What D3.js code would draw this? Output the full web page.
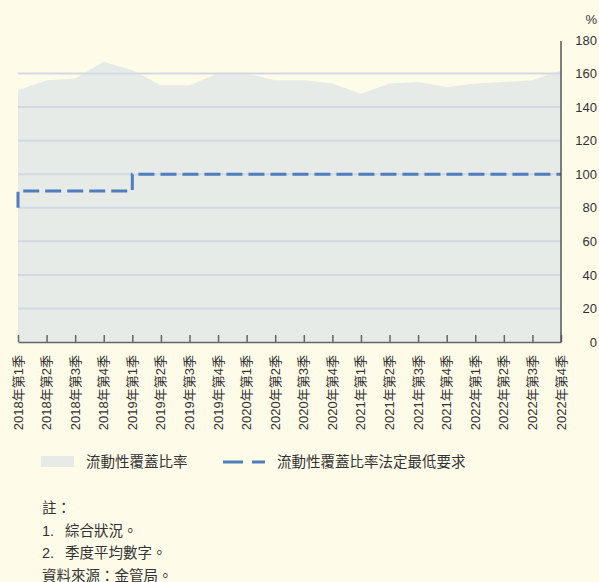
<!DOCTYPE html>
<html>
<head>
<meta charset="utf-8">
<script src="https://cdn.jsdelivr.net/npm/d3@7/dist/d3.min.js"></script>
<style>
  html, body { margin: 0; padding: 0; background: #fefbe9; }
  svg { display: block; }
  text { font-family: "Liberation Sans", "Noto Sans CJK TC", sans-serif; fill: #333; }
</style>
</head>
<body>
<svg id="chart" width="599" height="582"></svg>
<script>
// Quarters shown along the x axis
const quarters = [
  "2018年第1季","2018年第2季","2018年第3季","2018年第4季",
  "2019年第1季","2019年第2季","2019年第3季","2019年第4季",
  "2020年第1季","2020年第2季","2020年第3季","2020年第4季",
  "2021年第1季","2021年第2季","2021年第3季","2021年第4季",
  "2022年第1季","2022年第2季","2022年第3季","2022年第4季"
];
// Liquidity coverage ratio (%), quarterly average
const lcr = [150, 156, 157, 167, 162, 153, 153, 160, 160, 156,
             156, 154, 148, 154, 155, 152, 154, 155, 156, 162];
// Statutory minimum (%), with the level in force before 2018
const minPrior = 80;
const minReq = [90, 90, 90, 90, 100, 100, 100, 100, 100, 100,
                100, 100, 100, 100, 100, 100, 100, 100, 100, 100];
const yTicks = [0, 20, 40, 60, 80, 100, 120, 140, 160, 180];
const legendLabels = ["流動性覆蓋比率", "流動性覆蓋比率法定最低要求"];
const noteHeader = "註：";
const noteItems = [["1.", "綜合狀況。"], ["2.", "季度平均數字。"]];
const sourceLine = "資料來源：金管局。";

const svg = d3.select("#chart");
const plotLeft = 18, plotRight = 561, plotTop = 40, plotBottom = 342;

const x = d3.scalePoint().domain(quarters).range([plotLeft, plotRight]).padding(0);
const y = d3.scaleLinear().domain([0, 180]).range([plotBottom, plotTop]);

// Area series
const area = d3.area()
  .x((d, i) => x(quarters[i]))
  .y0(y(0))
  .y1(d => y(d));
svg.append("path")
  .datum(lcr)
  .attr("d", area)
  .attr("fill", "#e6ebe8");

// Horizontal gridlines
svg.append("g")
  .selectAll("line")
  .data(yTicks.filter(t => t > 0 && t < 180))
  .join("line")
  .attr("x1", plotLeft).attr("x2", plotRight)
  .attr("y1", d => y(d)).attr("y2", d => y(d))
  .attr("stroke", "#d3d9e4")
  .attr("stroke-width", 2);

// Statutory minimum as a step line
const stepData = [{ q: quarters[0], v: minPrior }]
  .concat(minReq.map((v, i) => ({ q: quarters[i], v })));
const stepLine = d3.line()
  .x(d => x(d.q))
  .y(d => y(d.v))
  .curve(d3.curveStepAfter);
svg.append("path")
  .datum(stepData)
  .attr("d", stepLine)
  .attr("fill", "none")
  .attr("stroke", "#4f7dbd")
  .attr("stroke-width", 3)
  .attr("stroke-dasharray", "16,6");

// X axis with ticks pointing up into the plot
const xAxis = svg.append("g")
  .attr("transform", `translate(0,${plotBottom})`)
  .call(d3.axisTop(x).tickSize(7).tickSizeOuter(0).tickFormat(""));
xAxis.select(".domain").attr("stroke", "#666").attr("stroke-width", 1.5);
xAxis.selectAll(".tick line").attr("stroke", "#666").attr("stroke-width", 1.5);

svg.append("g")
  .selectAll("text")
  .data(quarters)
  .join("text")
  .attr("transform", d => `translate(${x(d) + 4.5},355) rotate(-90)`)
  .attr("text-anchor", "end")
  .attr("font-size", 13)
  .text(d => d);

// Right-hand y axis
svg.append("line")
  .attr("x1", plotRight).attr("x2", plotRight)
  .attr("y1", plotTop + 1).attr("y2", plotBottom)
  .attr("stroke", "#555").attr("stroke-width", 1.5);
svg.append("g")
  .selectAll("text")
  .data(yTicks)
  .join("text")
  .attr("x", 597)
  .attr("y", d => y(d))
  .attr("dy", "0.36em")
  .attr("text-anchor", "end")
  .attr("font-size", 13)
  .text(d => d);
svg.append("text")
  .attr("x", 597).attr("y", 24)
  .attr("text-anchor", "end")
  .attr("font-size", 13)
  .text("%");

// Legend
const lg = svg.append("g");
lg.append("rect").attr("x", 41).attr("y", 456).attr("width", 33).attr("height", 11).attr("fill", "#e6ebe8");
lg.append("text").attr("x", 86).attr("y", 467).attr("font-size", 14.5).text(legendLabels[0]);
lg.append("line").attr("x1", 223).attr("x2", 265).attr("y1", 462).attr("y2", 462)
  .attr("stroke", "#4f7dbd").attr("stroke-width", 3).attr("stroke-dasharray", "20,9");
lg.append("text").attr("x", 277).attr("y", 467).attr("font-size", 14.5).text(legendLabels[1]);

// Notes and source
const notesG = svg.append("g").attr("font-size", 14.5);
notesG.append("text").attr("x", 42).attr("y", 513).text(noteHeader);
noteItems.forEach((item, i) => {
  const t = notesG.append("text").attr("y", 535.5 + i * 22.5);
  t.append("tspan").attr("x", 42).text(item[0]);
  t.append("tspan").attr("x", 65).text(item[1]);
});
notesG.append("text").attr("x", 42).attr("y", 580.5).text(sourceLine);
</script>
</body>
</html>
